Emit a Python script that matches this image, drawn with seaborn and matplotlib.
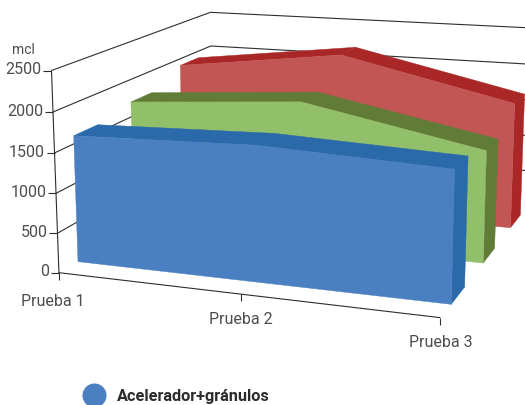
import numpy as np
import matplotlib
matplotlib.use("Agg")
import matplotlib.pyplot as plt
import seaborn as sns
from matplotlib.lines import Line2D
from mpl_toolkits.mplot3d import Axes3D, proj3d
from mpl_toolkits.mplot3d.art3d import Poly3DCollection

# ---- data ----
categories = ["Prueba 1", "Prueba 2", "Prueba 3"]
blue_values = [1610, 1675, 1585]
green_values = [1710, 1870, 1425]
red_values = [1915, 2195, 1685]
value_ticks = [0, 500, 1000, 1500, 2000, 2500]
legend_label = "Acelerador+gránulos"

sns.set_theme(style="white")
FONT = ["Roboto", "DejaVu Sans"]
plt.rcParams["font.family"] = FONT

front_colors = sns.color_palette(["#4A80C2", "#92BF6A", "#C25654"])
top_colors = sns.color_palette(["#2A6AAA", "#617C36", "#A92726"])
series = [blue_values, green_values, red_values]

W, H = 525, 405
# camera calibration: scene corners -> picture position
scene = [(0, 0, 0), (0, 0, 2500), (1, 0, 0), (2, 0, 0), (0, 3, 0), (0, 3, 2500), (2, 3, 0), (2, 3, 2500)]
image = [(59, 271.5), (51, 71), (241, 294.5), (440, 318), (212, 178), (211, 12), (527, 205), (533, 28)]
A = []
for (sx, sy, sz), (u, v) in zip(scene, image):
    X = [sx, sy, sz / 2500, 1]
    A.append(X + [0] * 4 + [-u * c for c in X])
    A.append([0] * 4 + X + [-v * c for c in X])
P = np.linalg.svd(np.array(A, float))[2][-1].reshape(3, 4)
P = P @ np.diag([1, 1, 1 / 2500, 1])
P = P / P[2, 3]
null = np.linalg.svd(P)[2][-1]


class SceneAxes(Axes3D):
    def apply_aspect(self, position=None):
        self._set_position(self.get_position(original=True), "active")

    def get_proj(self):
        flip = np.array([[1, 0, 0], [0, -1, H], [0, 0, 1]], float)
        to2d = self.transData.inverted().get_affine().get_matrix()
        Q = to2d @ flip @ P
        return np.vstack([Q[0], Q[1], null, Q[2]])


fig = plt.figure(figsize=(W / 100, H / 100), dpi=100)
ax = fig.add_axes([0, 0, 1, 1], axes_class=SceneAxes, computed_zorder=False)
ax.set_axis_off()
ax.set_xlim(0, 2)
ax.set_ylim(0, 3)
ax.set_zlim(0, 2500)


def label(x, y, z, s, **kw):
    u, v, _ = proj3d.proj_transform(x, y, z, ax.get_proj())
    ax.text2D(u, v, s, transform=ax.transData, va="center", **kw)


LINE = "#2e2e2e"
TEXT = "#4d4d4d"
lw = 0.8
xs = [0, 1, 2]
for v in value_ticks:
    ax.plot([0, 0, 2], [0, 3, 3], [v, v, v], color=LINE, lw=lw, zorder=1)
    ax.plot([0], [0], [v], marker=0, ms=5.8, mew=lw, color=LINE, zorder=1)
    label(-0.055, 0, v, str(v), ha="right", fontsize=11.5, color=TEXT)
ax.plot([0, 0], [0, 0], [0, 2500], color=LINE, lw=lw, zorder=1)
ax.plot([0, 2], [0, 0], [0, 0], color=LINE, lw=lw, zorder=1)
ax.plot([2, 2], [0, 3], [0, 0], color=LINE, lw=lw, zorder=1)
for i, lab in enumerate(categories):
    ax.plot([i], [0], [0], marker=3, ms=5, mew=lw, color=LINE, zorder=1)
    label(i + [-0.04, 0, 0.005][i], 0, [-375, -315, -295][i], lab, ha="center", fontsize=11.5, color=TEXT)
for d in range(1, 4):
    ax.plot([2], [d], [0], marker=1, ms=6, mew=lw, color=LINE, zorder=1)
label(-0.155, 0, 2720, "mcl", ha="center", fontsize=10, color=TEXT)

gap = 0.3
for k, vals in enumerate(series):
    yf, yb = k + gap, k + 1 - gap
    z0 = 2 + (3 - k) * 3
    front = [(0, yf, 0)] + [(x, yf, v) for x, v in zip(xs, vals)] + [(2, yf, 0)]
    side = [(2, yf, 0), (2, yf, vals[2]), (2, yb, vals[2]), (2, yb, 0)]
    polys = [(front, front_colors[k], z0 + 2), (side, top_colors[k], z0 + 1)]
    for s in range(2):
        polys.append(([(xs[s], yf, vals[s]), (xs[s + 1], yf, vals[s + 1]),
                       (xs[s + 1], yb, vals[s + 1]), (xs[s], yb, vals[s])], top_colors[k], z0))
    for verts, col, z in polys:
        ax.add_collection3d(Poly3DCollection([verts], facecolors=[col], edgecolors=[col], linewidths=0.3, zorder=z),
                            autolim=False)

handle = Line2D([], [], ls="", marker="o", ms=17.3, mew=0, color=front_colors[0])
ax.legend([handle], [legend_label], loc="center left", bbox_to_anchor=(85.7 / W, 1 - 396 / H),
          bbox_transform=fig.transFigure, frameon=False, borderpad=0, borderaxespad=0, handlelength=1,
          handletextpad=0.95, prop={"family": FONT, "weight": "bold", "size": 11.7}, labelcolor="#2b2b2b")
fig.savefig("out.png", dpi=100)
